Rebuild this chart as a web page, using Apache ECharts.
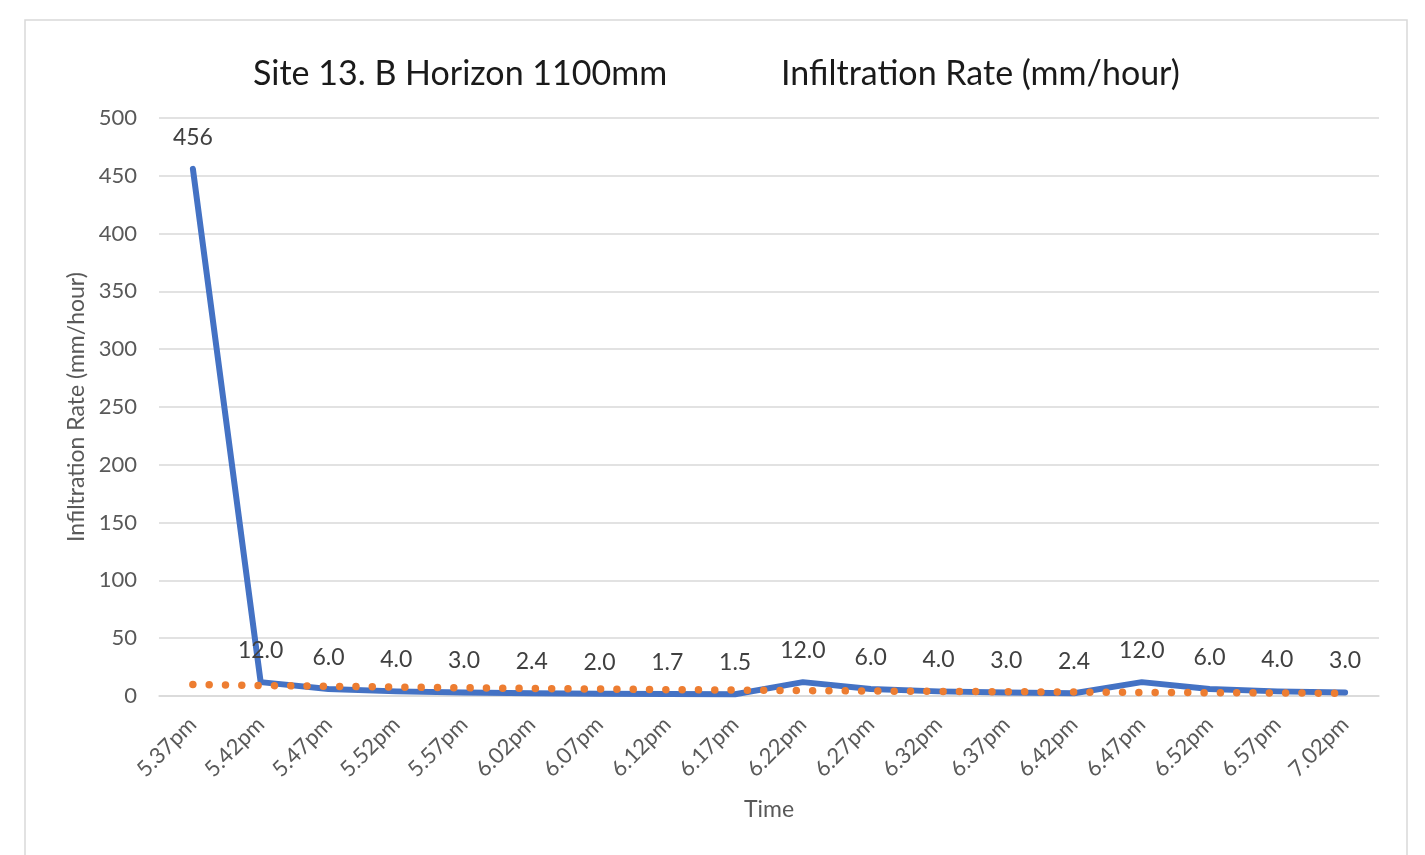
<!DOCTYPE html>
<html>
<head>
<meta charset="utf-8">
<title>Site 13. B Horizon 1100mm</title>
<script src="https://cdn.jsdelivr.net/npm/echarts@6/dist/echarts.min.js"></script>
<style>
  html, body { margin: 0; padding: 0; background: #fff; }
  #chartBox { width: 1425px; height: 855px; }
</style>
</head>
<body>
<div id="chartBox"></div>
<script>
// time of each reading
const times = ['5.37pm', '5.42pm', '5.47pm', '5.52pm', '5.57pm', '6.02pm', '6.07pm', '6.12pm', '6.17pm',
  '6.22pm', '6.27pm', '6.32pm', '6.37pm', '6.42pm', '6.47pm', '6.52pm', '6.57pm', '7.02pm'];

// infiltration rate (mm/hour)
const rates = [456, 12.0, 6.0, 4.0, 3.0, 2.4, 2.0, 1.7, 1.5, 12.0, 6.0, 4.0, 3.0, 2.4, 12.0, 6.0, 4.0, 3.0];

// dotted trend line
const trend = [9.9, 9.1, 8.4, 7.7, 7.1, 6.5, 6.0, 5.5, 5.1, 4.7, 4.3, 4.0, 3.7, 3.4, 3.1, 2.9, 2.6, 2.4];

const yTicks = [0, 50, 100, 150, 200, 250, 300, 350, 400, 450, 500];

const FONT = 'Lato';
const greyText = '#595959';

var myChart = echarts.init(document.getElementById('chartBox'));

myChart.setOption({
  animation: false,
  textStyle: { fontFamily: FONT },
  title: [
    {
      text: 'Site 13. B Horizon 1100mm',
      left: 248,
      top: 52,
      textStyle: { fontFamily: FONT, fontSize: 34, fontWeight: 'normal', color: '#1a1a1a' }
    },
    {
      text: 'Infiltration Rate (mm/hour)',
      left: 776,
      top: 52,
      textStyle: { fontFamily: FONT, fontSize: 34, fontWeight: 'normal', color: '#1a1a1a' }
    }
  ],
  graphic: [
    {
      type: 'rect',
      shape: { x: 25, y: 20, width: 1382, height: 860 },
      style: { fill: 'none', stroke: '#d9d9d9', lineWidth: 1.5 },
      silent: true
    }
  ],
  grid: {
    left: 159,
    right: 46,
    top: 118,
    bottom: 159
  },
  xAxis: {
    type: 'category',
    data: times,
    boundaryGap: true,
    name: 'Time',
    nameLocation: 'middle',
    nameGap: 102,
    nameTextStyle: { fontFamily: FONT, fontSize: 23, color: greyText },
    axisLine: { lineStyle: { color: '#d9d9d9', width: 1.5 } },
    axisTick: { show: false },
    axisLabel: {
      rotate: 45,
      margin: 25,
      fontFamily: FONT,
      fontSize: 22,
      color: greyText
    }
  },
  yAxis: {
    type: 'value',
    min: yTicks[0],
    max: yTicks[yTicks.length - 1],
    interval: 50,
    name: 'Infiltration Rate (mm/hour)',
    nameLocation: 'middle',
    nameGap: 70,
    nameTextStyle: { fontFamily: FONT, fontSize: 23, color: greyText },
    axisLine: { show: false },
    axisTick: { show: false },
    splitLine: { lineStyle: { color: '#d9d9d9', width: 1.5 } },
    axisLabel: {
      margin: 22,
      fontFamily: FONT,
      fontSize: 22,
      color: greyText
    }
  },
  series: [
    {
      name: 'Trend',
      type: 'line',
      data: trend,
      symbol: 'none',
      z: 3,
      lineStyle: {
        color: '#ED7D31',
        width: 7.5,
        type: [0.01, 16.3],
        cap: 'round'
      }
    },
    {
      name: 'Infiltration Rate',
      type: 'line',
      data: rates,
      symbol: 'circle',
      symbolSize: 2,
      itemStyle: { color: 'rgba(0,0,0,0)' },
      z: 2,
      lineStyle: { color: '#4472C4', width: 6, cap: 'round', join: 'round' },
      label: {
        show: true,
        position: 'top',
        distance: 19,
        fontFamily: FONT,
        fontSize: 23,
        color: '#404040',
        formatter: function (p) {
          return p.value >= 100 ? String(p.value) : p.value.toFixed(1);
        }
      }
    }
  ]
});
</script>
</body>
</html>
